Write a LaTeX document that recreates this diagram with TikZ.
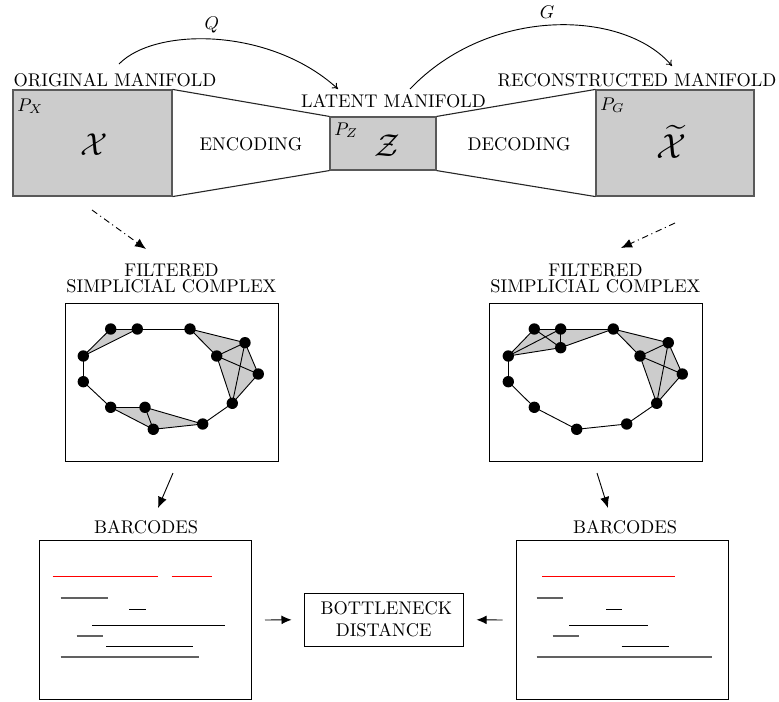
\documentclass[tikz,border=0pt]{standalone}
\usetikzlibrary{arrows.meta,backgrounds}
\begin{document}
\begin{tikzpicture}[x=0.545pt,y=-0.545pt,
  graybox/.style={draw=black!65, fill=black!20, line width=0.6pt, inner sep=0pt, rectangle},
  plainbox/.style={draw=black, line width=0.5pt, inner sep=0pt, rectangle},
  dot/.style={circle, fill=black, inner sep=0pt, minimum size=6.2pt},
  sedge/.style={line width=0.5pt, black},
  shade/.style={fill=black!20},
  bigarrow/.style={line width=0.5pt, -{Latex[length=6pt,width=5pt]}},
  smallarrow/.style={line width=0.5pt, -{Latex[length=5.5pt,width=4.8pt]}},
  thinarrow/.style={line width=0.5pt, -{To[length=3pt,width=4pt]}},
  dashdotarrow/.style={line width=0.5pt, dash pattern=on 3.5pt off 2pt on 0.6pt off 2pt, -{Latex[length=6pt,width=5pt]}},
  redbar/.style={red, line width=0.6pt},
  graybar/.style={black!62, line width=1pt},
  blackbar/.style={black, line width=0.5pt},
  trap/.style={line width=0.6pt, black!85}
]
\useasboundingbox (0,0) rectangle (779,702);

% ---------- top: manifolds ----------
\node[graybox, minimum width=86.7pt, minimum height=57.8pt] (X) at (92.5,143) {};
\node[graybox, minimum width=57.8pt, minimum height=28.9pt] (Z) at (383,143.5) {};
\node[graybox, minimum width=86.1pt, minimum height=57.8pt] (Xt) at (675,143) {};

\draw[trap] (X.north east) -- (Z.north west);
\draw[trap] (X.south east) -- (Z.south west);
\draw[trap] (Z.north east) -- (Xt.north west);
\draw[trap] (Z.south east) -- (Xt.south west);

\node (enc) at (251,144) {ENCODING};
\node (dec) at (519,144) {DECODING};

\node[anchor=base, inner sep=0pt] (origlab) at (115,86) {ORIGINAL MANIFOLD};
\node[anchor=base, inner sep=0pt] (latlab) at (393.5,107) {LATENT MANIFOLD};
\node[anchor=base, inner sep=0pt] (reclab) at (637,86) {RECONSTRUCTED MANIFOLD};

\node[anchor=base west, inner sep=0pt] (px) at (17,111) {$P_X$};
\node[anchor=base west, inner sep=0pt] (pz) at (334,135) {$P_Z$};
\node[anchor=base west, inner sep=0pt] (pg) at (600,110) {$P_G$};

\node (calX) at (94,145) {\fontsize{19}{22}\selectfont$\mathcal{X}$};
\node (calZ) at (387,146) {\fontsize{17}{20}\selectfont$\mathcal{Z}$};
\node[inner sep=0pt] (calXt) at (671,142) {\scalebox{1.9}{$\widetilde{\mathcal{X}}$}};

% arcs Q and G
\coordinate (qs) at (119,64);
\coordinate (qe) at (338,89);
\draw[thinarrow] (qs) .. controls (155,27) and (270,27) .. (qe);
\node (Q) at (212,25) {$Q$};
\coordinate (gs) at (410,89);
\coordinate (ge) at (672,66);
\draw[thinarrow] (gs) .. controls (490,5) and (625,10) .. (ge);
\node (G) at (547,12) {$G$};

% dash-dot arrows
\coordinate (dl1) at (92,210);
\coordinate (dl2) at (146,249);
\draw[dashdotarrow] (dl1) -- (dl2);
\coordinate (dr1) at (675,223);
\coordinate (dr2) at (621,248);
\draw[dashdotarrow] (dr1) -- (dr2);

% ---------- simplicial complexes ----------
\node[anchor=south, align=center, inner sep=0pt] (fl) at (171.5,293) {FILTERED\\[-3.2pt]SIMPLICIAL COMPLEX};
\node[anchor=south, align=center, inner sep=0pt] (fr) at (595.5,293) {FILTERED\\[-3.2pt]SIMPLICIAL COMPLEX};
\node[plainbox, minimum width=116.1pt, minimum height=86.1pt] (cl) at (171.5,382) {};
\node[plainbox, minimum width=116.1pt, minimum height=86.1pt] (cr) at (595.5,382) {};

\foreach \n/\x/\y in {1/110.7/329, 2/137.3/329, 3/190/329, 4/245/342.7, 5/216.7/356,
  6/258.3/374, 7/232.3/403.3, 8/202.7/424, 9/153.3/429.3, 10/145/407.3,
  11/110.7/407.3, 12/83.3/381.7, 13/83.3/356}
  \node[dot] (l\n) at (\x,\y) {};
\foreach \n/\x/\y in {1/534.3/329, 2/560.7/329, 3/560.7/347.7, 4/613.3/329, 5/668.3/342.7,
  6/640/356, 7/682.3/374, 8/656.7/403.3, 9/626.7/424, 10/576.7/429.3,
  11/534.3/407.3, 12/508.3/381.7, 13/508.3/356}
  \node[dot] (r\n) at (\x,\y) {};

\begin{scope}[on background layer]
  \fill[shade] (l13.center) -- (l1.center) -- (l2.center) -- cycle;
  \fill[shade] (l3.center) -- (l4.center) -- (l6.center) -- (l7.center) -- (l5.center) -- cycle;
  \fill[shade] (l11.center) -- (l10.center) -- (l8.center) -- (l9.center) -- cycle;
  \foreach \a/\b in {13/1, 1/2, 2/13, 2/3, 3/4, 3/5, 4/5, 4/6, 4/7, 5/6, 5/7, 6/7,
    7/8, 8/10, 8/9, 9/10, 9/11, 10/11, 11/12, 12/13}
    \draw[sedge] (l\a.center) -- (l\b.center);
  \fill[shade] (r13.center) -- (r1.center) -- (r2.center) -- (r4.center) -- (r3.center) -- cycle;
  \fill[shade] (r4.center) -- (r5.center) -- (r7.center) -- (r8.center) -- (r6.center) -- cycle;
  \foreach \a/\b in {13/1, 1/2, 2/4, 4/3, 3/13, 13/2, 1/3, 2/3, 4/5, 4/6, 5/6, 5/7,
    5/8, 6/7, 6/8, 7/8, 8/9, 9/10, 10/11, 11/12, 12/13}
    \draw[sedge] (r\a.center) -- (r\b.center);
\end{scope}

% arrows to barcodes
\coordinate (al1) at (173,473);
\coordinate (al2) at (158,508);
\draw[bigarrow] (al1) -- (al2);
\coordinate (ar1) at (597,473);
\coordinate (ar2) at (608,508);
\draw[bigarrow] (ar1) -- (ar2);

% ---------- barcodes ----------
\node[anchor=base, inner sep=0pt] (bl) at (146,533) {BARCODES};
\node[anchor=base, inner sep=0pt] (br) at (625,533) {BARCODES};
\node[plainbox, minimum width=115.5pt, minimum height=86.2pt] (bxl) at (145,620) {};
\node[plainbox, minimum width=115.5pt, minimum height=86.2pt] (bxr) at (622,620) {};

\draw[redbar] (52.7,576.7) -- (158.3,576.7);
\draw[redbar] (171.7,576.7) -- (211.7,576.7);
\draw[graybar] (60.7,598.3) -- (108.3,598.3);
\draw[blackbar] (129.3,609) -- (145.7,609);
\draw[blackbar] (92.3,625) -- (225,625);
\draw[graybar] (76.7,635.7) -- (102.7,635.7);
\draw[blackbar] (106,646) -- (193.3,646);
\draw[graybar] (60.7,656.7) -- (199,656.7);

\draw[redbar] (542.3,576.7) -- (675,576.7);
\draw[graybar] (536.7,598.3) -- (563.3,598.3);
\draw[blackbar] (606,609) -- (621.7,609);
\draw[blackbar] (569,625) -- (648.3,625);
\draw[graybar] (552.7,635.7) -- (579.3,635.7);
\draw[blackbar] (621.7,646) -- (669.3,646);
\draw[graybar] (536.7,656.7) -- (711.7,656.7);

% ---------- bottleneck ----------
\node[plainbox, minimum width=86.7pt, minimum height=28.8pt, align=center] (bn) at (383.7,619.7) {\hspace{3pt}BOTTLENECK\\DISTANCE};
\coordinate (bl1) at (265,620);
\coordinate (br1) at (502.7,620);
\draw[smallarrow, shorten >=6.6pt] (bl1) -- (bn.west);
\draw[smallarrow, shorten >=7pt] (br1) -- (bn.east);

\end{tikzpicture}
\end{document}
